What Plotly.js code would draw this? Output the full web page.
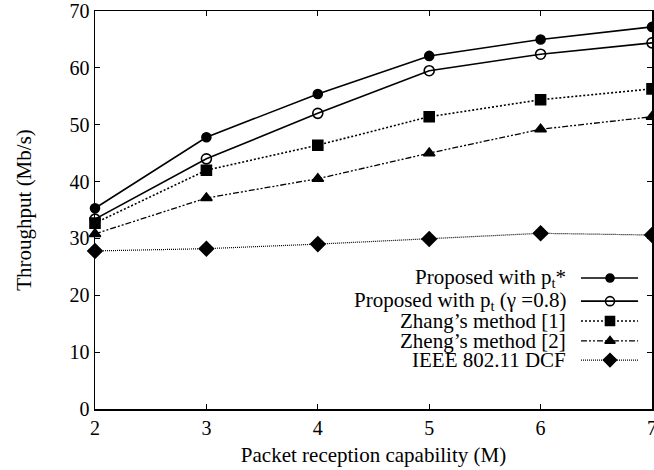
<!DOCTYPE html>
<html><head><meta charset="utf-8">
<script src="https://cdn.plot.ly/plotly-3.0.1.min.js"></script>
<style>html,body{margin:0;padding:0;background:#fff}</style>
</head><body><div id="chart" style="width:654px;height:470px"></div>
<script>
const xValues = [2, 3, 4, 5, 6, 7];
const seriesNames = ["Proposed with p<sub>t</sub>*", "Proposed with p<sub>t</sub> (\u03b3 =0.8)", "Zhang\u2019s method [1]", "Zheng\u2019s method [2]", "IEEE 802.11 DCF"];
const proposedOpt = [35.3, 47.8, 55.4, 62.1, 65.0, 67.2];
const proposedGamma = [33.4, 44.0, 52.0, 59.5, 62.4, 64.4];
const zhang = [32.7, 42.0, 46.4, 51.4, 54.4, 56.3];
const zheng = [30.8, 37.1, 40.5, 45.0, 49.2, 51.4];
const dcf = [27.8, 28.2, 29.0, 29.9, 30.9, 30.6];
const yTicks = [0, 10, 20, 30, 40, 50, 60, 70];

const FONT = "Liberation Serif";
const styles = [
  {dash: "solid", width: 1.6, symbol: "circle", size: 9},
  {dash: "solid", width: 1.6, symbol: "circle-open", size: 10},
  {dash: "2px,2px", width: 1.6, symbol: "square", size: 10},
  {dash: "6px,2px,2px,2px,2px,2px", width: 1.3, symbol: "triangle-up", size: 10},
  {dash: "1px,1px", width: 1.2, symbol: "diamond", size: 11}
];
const data = [proposedOpt, proposedGamma, zhang, zheng, dcf];

const traces = data.map((ys, i) => ({
  x: xValues, y: ys, type: "scatter", mode: "lines+markers", showlegend: false,
  line: {color: "#000", width: styles[i].width, dash: styles[i].dash},
  marker: {symbol: styles[i].symbol, size: styles[i].size, color: "#000", line: {width: 1.6, color: "#000"}},
  cliponaxis: false
}));

// gnuplot-style legend keys (text left of sample) on an overlay axis in 0..1 units
const keyRows = [0.329, 0.271, 0.221, 0.171, 0.123];
const keyX = [0.8725, 0.9246, 0.975];
const annotations = [];
keyRows.forEach((ry, i) => {
  traces.push({
    x: [keyX[0], keyX[2]], y: [ry, ry], xaxis: "x2", yaxis: "y2", type: "scatter", mode: "lines",
    showlegend: false, hoverinfo: "skip",
    line: {color: "#000", width: styles[i].width, dash: styles[i].dash}
  });
  traces.push({
    x: [keyX[1]], y: [ry], xaxis: "x2", yaxis: "y2", type: "scatter", mode: "markers",
    showlegend: false, hoverinfo: "skip",
    marker: {symbol: styles[i].symbol, size: styles[i].size - 1, color: "#000", line: {width: 1.6, color: "#000"}}
  });
  annotations.push({
    xref: "x2", yref: "y2", x: 0.849, y: ry, xanchor: "right", yanchor: "middle",
    text: seriesNames[i], showarrow: false,
    font: {family: FONT, size: 21, color: "#000"}
  });
});

const layout = {
  width: 654, height: 470,
  margin: {l: 95, r: 2, t: 11, b: 61},
  paper_bgcolor: "#fff", plot_bgcolor: "#fff",
  font: {family: FONT, size: 20, color: "#000"},
  xaxis: {
    range: [2, 7], tickvals: xValues, ticks: "inside", ticklen: 5, tickwidth: 1, tickcolor: "#000",
    showline: true, linecolor: "#000", linewidth: 1.5, mirror: "ticks", showgrid: false, zeroline: false,
    ticklabeloverflow: "allow",
    title: {text: "Packet reception capability (M)", standoff: 10, font: {family: FONT, size: 21}},
    tickfont: {family: FONT, size: 20}
  },
  yaxis: {
    range: [0, 70], tickvals: yTicks, ticks: "inside", ticklen: 5, tickwidth: 1, tickcolor: "#000",
    showline: true, linecolor: "#000", linewidth: 1.5, mirror: "ticks", showgrid: false, zeroline: false,
    title: {text: "Throughput (Mb/s)", standoff: 32, font: {family: FONT, size: 21}},
    tickfont: {family: FONT, size: 20}
  },
  xaxis2: {overlaying: "x", range: [0, 1], visible: false, fixedrange: true},
  yaxis2: {overlaying: "y", range: [0, 1], visible: false, fixedrange: true},
  annotations: annotations,
  showlegend: false
};
Plotly.newPlot("chart", traces, layout, {displayModeBar: false, staticPlot: true});
</script></body></html>
